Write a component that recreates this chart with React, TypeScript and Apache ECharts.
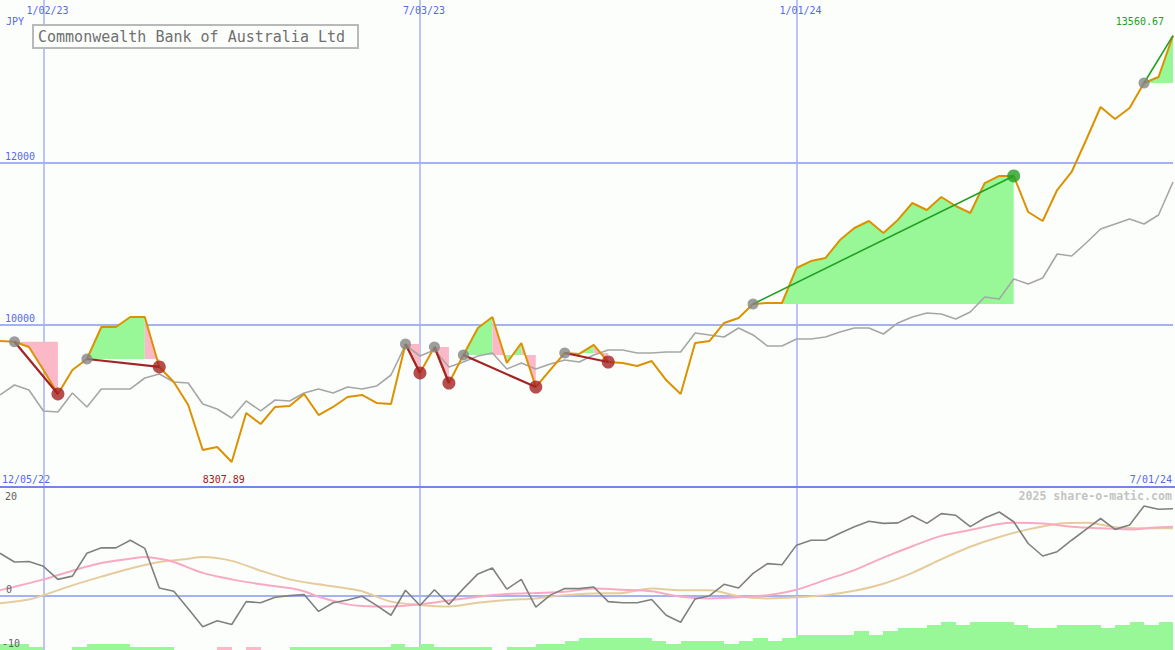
import React, { useEffect, useRef } from "react";
import * as echarts from "echarts";

// ---------- data ----------
const title = "Commonwealth Bank of Australia Ltd";
const currency = "JPY";
const credit = "2025 share-o-matic.com";
const firstDateLabel = "12/05/22";
const lastDateLabel = "7/01/24";
const dateTickIdx = [3, 29, 55];
const dateTickLabels = ["1/02/23", "7/03/23", "1/01/24"];
const priceLevels = [10000, 12000];
const oscLevels = [20, 0, -10];
const LAST = 81;

// weekly close (orange)
const price = [
  9799, 9790, 9725, 9442, 9146, 9442, 9577, 9971, 9971, 10095,
  10095, 9479, 9294, 9010, 8456, 8493, 8307.89, 8912, 8776, 8986,
  8998, 9146, 8887, 8986, 9109, 9134, 9035, 9023, 9762, 9405,
  9725, 9281, 9626, 9959, 10095, 9528, 9774, 9232, 9442, 9651,
  9639, 9750, 9540, 9528, 9491, 9552, 9318, 9146, 9774, 9799,
  10021, 10082, 10255, 10267, 10267, 10698, 10784, 10821, 11043, 11191,
  11277, 11129, 11290, 11499, 11413, 11573, 11462, 11376, 11745, 11832,
  11832, 11388, 11277, 11659, 11881, 12275, 12682, 12534, 12669, 12977,
  13051, 13560.67,
];

// comparison index (grey)
const compare = [
  9134, 9257, 9195, 8937, 8924, 9158, 8986, 9208, 9208, 9208,
  9343, 9392, 9294, 9281, 9023, 8961, 8850, 9060, 8937, 9072,
  9060, 9158, 9208, 9158, 9232, 9208, 9244, 9380, 9750, 9614,
  9688, 9479, 9540, 9614, 9651, 9454, 9528, 9454, 9516, 9565,
  9540, 9626, 9688, 9688, 9651, 9651, 9663, 9663, 9897, 9873,
  9848, 9959, 9873, 9737, 9737, 9824, 9824, 9848, 9910, 9959,
  9959, 9885, 10021, 10095, 10144, 10132, 10070, 10156, 10341, 10316,
  10563, 10501, 10575, 10871, 10846, 11006, 11179, 11240, 11302, 11240,
  11351, 11758,
];

// lower panel oscillator (dark grey)
const momentum = [
  7.8, 6.2, 6.3, 5.4, 3.0, 3.6, 7.8, 8.8, 8.8, 10.2,
  8.7, 1.4, 0.8, -2.4, -5.7, -4.6, -5.3, -1.1, -1.3, -0.3,
  0.0, 0.2, -2.9, -1.3, -0.8, -0.1, -1.8, -3.6, 1.0, -1.8,
  1.1, -1.6, 1.3, 4.0, 5.1, 1.2, 3.0, -2.1, 0.1, 1.3,
  1.3, 1.6, -1.1, -1.3, -1.3, -0.7, -3.6, -4.9, -0.6, 0.0,
  2.1, 1.4, 4.1, 5.9, 5.7, 9.3, 10.2, 10.2, 11.5, 12.7,
  13.7, 13.3, 13.4, 14.7, 13.3, 15.1, 14.8, 12.7, 14.3, 15.4,
  13.6, 9.6, 7.3, 8.1, 10.2, 12.2, 14.2, 12.2, 13.0, 16.5,
  15.9, 16.0,
];

// smoothed averages (pink, tan) read at these week indices
const pinkIdx = [0, 3, 5, 7, 9, 10, 11, 12, 14, 16, 18, 20, 21, 22, 24, 25, 27, 29, 31, 33, 35, 37, 39, 41, 43, 45, 47, 49, 51, 53, 55, 57, 59, 61, 63, 65, 67, 69, 70, 72, 74, 76, 78, 80, 81];
const pinkVal = [1.0, 3.0, 4.6, 6.0, 6.8, 7.1, 6.8, 6.2, 4.2, 3.0, 2.1, 1.4, 0.8, -0.2, -1.6, -1.9, -2.0, -1.6, -0.9, -0.2, 0.3, 0.5, 0.7, 1.3, 1.1, 0.8, -0.2, -0.5, -0.3, 0.1, 1.1, 2.9, 4.7, 7.0, 9.1, 11.0, 12.1, 13.2, 13.4, 13.3, 12.7, 12.4, 12.2, 12.6, 12.7];
const tanIdx = [0, 2, 3, 5, 7, 9, 11, 13, 14, 16, 18, 20, 22, 24, 25, 27, 29, 31, 33, 35, 37, 39, 41, 43, 45, 47, 49, 51, 53, 55, 57, 59, 61, 63, 65, 67, 69, 71, 73, 75, 76, 77, 79, 81];
const tanVal = [-1.4, -0.7, 0.1, 1.9, 3.5, 5.0, 6.2, 6.8, 7.1, 6.4, 4.6, 3.0, 2.1, 1.3, 0.8, -1.1, -1.7, -2.0, -1.3, -0.8, -0.5, 0.1, 0.4, 0.5, 1.3, 1.0, 1.0, -0.1, -0.5, -0.3, 0.1, 0.9, 2.2, 4.2, 6.7, 9.0, 10.8, 12.2, 13.2, 13.4, 13.1, 12.6, 12.4, 12.4];

// histogram (positive = green, negative = pink), one per week
const barVals = [
  1.1, 1.1, 0.55, 0, 0, 0.55, 1.1, 1.1, 1.1, 0.55,
  0.55, 0.55, 0, 0, 0, -0.55, 0, -0.55, 0, 0,
  0.55, 0.55, 0.55, 0.55, 0.55, 0.55, 0.55, 1.1, 0.55, 1.1,
  0.55, 0.55, 0.55, 0.55, 0, 0.55, 0.55, 1.1, 1.1, 1.65,
  2.2, 2.2, 2.2, 2.2, 2.2, 1.65, 1.1, 1.65, 1.65, 1.65,
  1.1, 1.65, 2.2, 1.65, 2.2, 2.75, 2.75, 2.75, 2.75, 3.5,
  2.75, 3.5, 4.05, 4.05, 4.6, 5.15, 4.6, 5.15, 5.15, 5.15,
  4.6, 4.05, 4.05, 4.6, 4.6, 4.6, 4.05, 4.6, 5.15, 4.6,
  5.15,
];

// trades: entry week, exit week, closed?
const tradeEntry = [1, 6, 28, 30, 32, 39, 52, 79];
const tradeExit = [4, 11, 29, 31, 37, 42, 70, 81];
const tradeClosed = [true, true, true, true, true, true, true, false];

// ---------- styles ----------
const BG = "#fcfefc";
const GRID = "#a4b2f3";
const SEP = "#7485ea";
const BLUE_TXT = "#5468f0";
const GREEN_FILL = "#98f898";
const PINK_FILL = "#fdb8c8";
const MONO = "'DejaVu Sans Mono', 'Liberation Mono', monospace";

export default function App() {
  const ref = useRef<HTMLDivElement>(null);

  useEffect(() => {
    if (!ref.current) return;
    const chart = echarts.init(ref.current, null, { renderer: "svg", width: 1175, height: 650 });

    // fill runs: consecutive weeks of one colour inside a trade
    const fillRuns: number[][] = [];
    const tradeLines: number[][] = [];
    tradeEntry.forEach((e, k) => {
      const x = tradeExit[k];
      const lv = price[e];
      let runStart = e;
      let runUp = price[e + 1] > lv ? 1 : 0;
      for (let i = e; i < x; i++) {
        const up = price[i + 1] > lv ? 1 : 0;
        if (up !== runUp) {
          fillRuns.push([runStart, i, lv, runUp]);
          runStart = i;
          runUp = up;
        }
      }
      fillRuns.push([runStart, x, lv, runUp]);
      tradeLines.push([e, price[e], x, price[x], price[x] > price[e] ? 1 : 0]);
    });
    const entries = tradeEntry.map((e) => [e, price[e]]);
    const lossExits = tradeExit.filter((x, k) => tradeClosed[k] && price[x] <= price[tradeEntry[k]]).map((x) => [x, price[x]]);
    const winExits = tradeExit.filter((x, k) => tradeClosed[k] && price[x] > price[tradeEntry[k]]).map((x) => [x, price[x]]);
    const bars = barVals.map((v, i) => [i, v]).filter((d) => d[1] !== 0);

    const option: any = {
      animation: false,
      backgroundColor: BG,
      grid: [
        { left: 0, right: 2, top: 0, height: 487 },
        { left: 0, right: 2, top: 487, height: 163 },
      ],
      xAxis: [
        { type: "value", gridIndex: 0, min: 0, max: LAST, show: false },
        { type: "value", gridIndex: 1, min: 0, max: LAST, show: false },
      ],
      yAxis: [
        { type: "value", gridIndex: 0, min: 8000, max: 14000, show: false },
        { type: "value", gridIndex: 1, min: -10, max: 20, show: false },
      ],
      series: [
        {
          type: "line", xAxisIndex: 0, yAxisIndex: 0, z: 0, silent: true,
          data: [[0, price[0]]], symbol: "none", lineStyle: { opacity: 0 },
          markLine: {
            z: 1, silent: true, symbol: "none", animation: false, label: { show: false },
            data: [
              ...dateTickIdx.map((x) => ({ xAxis: x, lineStyle: { color: GRID, width: 1.5, type: "solid" } })),
              ...priceLevels.map((y) => ({ yAxis: y, lineStyle: { color: GRID, width: 2, type: "solid" } })),
            ],
          },
        },
        {
          type: "custom", xAxisIndex: 0, yAxisIndex: 0, z: 2, silent: true,
          data: fillRuns, encode: { x: [0, 1], y: 2 },
          renderItem: (_p: any, api: any) => {
            const s = api.value(0), e = api.value(1), lv = api.value(2), up = api.value(3);
            const pts: number[][] = [api.coord([s, lv])];
            for (let i = s; i <= e; i++) pts.push(api.coord([i, price[i]]));
            pts.push(api.coord([e, lv]));
            return { type: "polygon", shape: { points: pts }, style: { fill: up ? GREEN_FILL : PINK_FILL } };
          },
        },
        {
          type: "line", xAxisIndex: 0, yAxisIndex: 0, z: 3, silent: true, symbol: "none",
          data: compare.map((v, i) => [i, v]), lineStyle: { color: "#a6a6a6", width: 1.6 },
        },
        {
          type: "line", xAxisIndex: 0, yAxisIndex: 0, z: 4, silent: true, symbol: "none",
          data: price.map((v, i) => [i, v]), lineStyle: { color: "#dc9200", width: 2 },
        },
        {
          type: "custom", xAxisIndex: 0, yAxisIndex: 0, z: 5, silent: true,
          data: tradeLines, encode: { x: [0, 2], y: [1, 3] },
          renderItem: (_p: any, api: any) => {
            const a = api.coord([api.value(0), api.value(1)]);
            const b = api.coord([api.value(2), api.value(3)]);
            const win = api.value(4);
            return {
              type: "line",
              shape: { x1: a[0], y1: a[1], x2: b[0], y2: b[1] },
              style: { stroke: win ? "#22a022" : "#a32424", lineWidth: win ? 1.6 : 2.2 },
            };
          },
        },
        {
          type: "scatter", xAxisIndex: 0, yAxisIndex: 0, z: 6, silent: true,
          data: entries, symbolSize: 11, itemStyle: { color: "#858585" },
        },
        {
          type: "scatter", xAxisIndex: 0, yAxisIndex: 0, z: 6, silent: true,
          data: lossExits, symbolSize: 13, itemStyle: { color: "#a52222" },
        },
        {
          type: "scatter", xAxisIndex: 0, yAxisIndex: 0, z: 6, silent: true,
          data: winExits, symbolSize: 13, itemStyle: { color: "#22a022" },
        },
        {
          type: "line", xAxisIndex: 1, yAxisIndex: 1, z: 0, silent: true,
          data: [[0, 0]], symbol: "none", lineStyle: { opacity: 0 },
          markLine: {
            z: 1, silent: true, symbol: "none", animation: false, label: { show: false },
            data: [
              ...dateTickIdx.map((x) => ({ xAxis: x, lineStyle: { color: GRID, width: 1.5, type: "solid" } })),
              { yAxis: 0, lineStyle: { color: GRID, width: 2, type: "solid" } },
            ],
          },
        },
        {
          type: "custom", xAxisIndex: 1, yAxisIndex: 1, z: 2, silent: true,
          data: bars, encode: { x: 0, y: 1 },
          renderItem: (_p: any, api: any) => {
            const i = api.value(0), v = api.value(1);
            const a = api.coord([i, -10]);
            const b = api.coord([i + 1, -10 + Math.abs(v)]);
            const x0 = Math.round(a[0]), x1 = Math.round(b[0]);
            const yTop = Math.round(b[1]);
            return {
              type: "rect",
              shape: { x: x0, y: yTop, width: x1 - x0, height: Math.round(a[1]) - yTop },
              style: { fill: v >= 0 ? GREEN_FILL : PINK_FILL },
            };
          },
        },
        {
          type: "line", xAxisIndex: 1, yAxisIndex: 1, z: 3, silent: true, symbol: "none", smooth: 0.3,
          data: tanIdx.map((x, k) => [x, tanVal[k]]), lineStyle: { color: "#e6cc9c", width: 2 },
        },
        {
          type: "line", xAxisIndex: 1, yAxisIndex: 1, z: 3, silent: true, symbol: "none", smooth: 0.3,
          data: pinkIdx.map((x, k) => [x, pinkVal[k]]), lineStyle: { color: "#f8aac4", width: 2 },
        },
        {
          type: "line", xAxisIndex: 1, yAxisIndex: 1, z: 4, silent: true, symbol: "none",
          data: momentum.map((v, i) => [i, v]), lineStyle: { color: "#808080", width: 1.6 },
        },
      ],
    };
    chart.setOption(option);

    const px = (g: number, x: number, y: number) => chart.convertToPixel({ gridIndex: g } as any, [x, y]) as number[];
    const sepY = px(0, 0, 8000)[1];
    const txt = (text: string, x: number, y: number, fill: string, align = "left", size = 10, weight = "normal") => ({
      type: "text", x, y, z: 50, silent: true,
      style: { text, fill, align, verticalAlign: "middle", textAlign: align, textVerticalAlign: "middle", fontSize: size, fontFamily: MONO, fontWeight: weight },
    });

    let minIdx = 0;
    price.forEach((v, i) => { if (v < price[minIdx]) minIdx = i; });
    let maxIdx = 0;
    price.forEach((v, i) => { if (v > price[maxIdx]) maxIdx = i; });

    const graphics: any[] = [
      { type: "line", z: 40, silent: true, shape: { x1: 0, y1: sepY, x2: 1175, y2: sepY }, style: { stroke: SEP, lineWidth: 2 } },
      txt(currency, 6, 21, BLUE_TXT),
      ...priceLevels.map((v) => txt(String(v), 5, px(0, 0, v)[1] - 6, BLUE_TXT)),
      ...dateTickIdx.map((x, k) => txt(dateTickLabels[k], px(0, x, 14000)[0] - 17, 10, BLUE_TXT)),
      txt(firstDateLabel, 2, sepY - 8, BLUE_TXT),
      txt(lastDateLabel, 1172, sepY - 8, BLUE_TXT, "right"),
      txt(price[minIdx].toFixed(2), px(0, minIdx, price[minIdx])[0] - 29, sepY - 8, "#a02020"),
      txt(price[maxIdx].toFixed(2), px(0, maxIdx, price[maxIdx])[0] - 9, 21, "#20a020", "right"),
      txt(String(oscLevels[0]), 5, px(1, 0, oscLevels[0])[1] + 9, "#606060"),
      txt(String(oscLevels[1]), 6, px(1, 0, oscLevels[1])[1] - 6, "#606060"),
      txt(String(oscLevels[2]), 2, px(1, 0, oscLevels[2])[1] - 7, "#606060"),
      txt(credit, 1172, 496, "#c4c4c4", "right", 11.6, "bold"),
      {
        type: "rect", z: 45, silent: true,
        shape: { x: 33, y: 25, width: 325, height: 23 },
        style: { fill: BG, stroke: "#b9b9b9", lineWidth: 2 },
      },
      txt(title, 38, 37, "#707070", "left", 15),
    ];
    chart.setOption({ graphic: graphics });

    return () => chart.dispose();
  }, []);

  return (
    <div
      ref={ref}
      style={{ position: "fixed", left: 0, top: 0, width: 1175, height: 650, background: BG }}
    />
  );
}
